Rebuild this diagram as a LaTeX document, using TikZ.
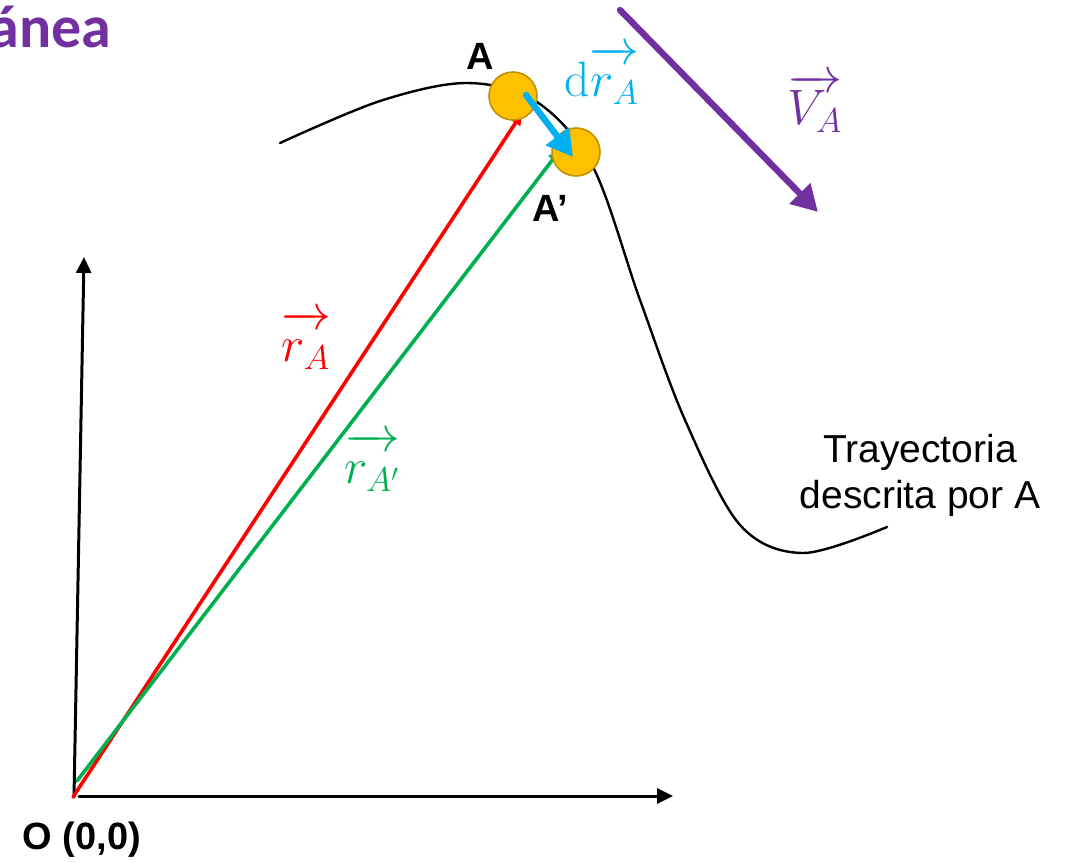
\documentclass[tikz,border=0pt]{standalone}
\usepackage[no-math]{fontspec}
\setmainfont{Liberation Sans}
\newfontfamily\titlefont{Carlito}
\usetikzlibrary{arrows.meta,positioning}

\definecolor{vecred}{RGB}{255,0,0}
\definecolor{vecgreen}{RGB}{0,176,80}
\definecolor{vecblue}{RGB}{0,176,240}
\definecolor{vecpurple}{RGB}{112,48,160}
\definecolor{ptfill}{RGB}{255,192,0}
\definecolor{ptdraw}{RGB}{191,144,0}

\newcommand{\highvec}[1]{\overrightarrow{#1\vphantom{b}}}

\begin{document}
\begin{tikzpicture}[x=0.5pt, y=-0.5pt, line cap=round, line join=round,
    axis/.style={line width=1.5pt, -{Triangle[length=8pt,width=7.5pt]}},
    posvec/.style={line width=1.8pt, -{Triangle[length=6pt,width=5.5pt]}},
    bigvec/.style={line width=3.2pt, -{Triangle[length=13pt,width=14pt]}},
    point/.style={circle, fill=ptfill, draw=ptdraw, line width=0.8pt, minimum size=24pt, inner sep=0pt},
    lbl/.style={font=\fontsize{19}{22}\selectfont\bfseries},
    mathlbl/.style={font=\fontsize{24}{28}\selectfont}]
    \useasboundingbox (0,0) rectangle (1068,862);

    % --- title (cut at the left edge) ---
    \node[anchor=base east, text=vecpurple, inner sep=0pt,
        font=\titlefont\fontsize{30}{36}\selectfont\bfseries] (title) at (112,47) {ánea};

    % --- axes ---
    \coordinate (O) at (73,797);
    \coordinate (yorig) at (74,797);
    \coordinate (xorig) at (79,796);
    \coordinate (xend) at (673,796);
    \coordinate (yend) at (84,257);
    \draw[axis] (xorig) -- (xend);
    \draw[axis] (yorig) -- (yend);
    \node[lbl] (origin) at (82,840) {O (0,0)};

    % --- trajectory ---
    \draw[line width=1.2pt, smooth, tension=0.55] plot coordinates {
        (280,143) (380,101) (467,83) (537,102) (593,167) (640,300)
        (685,420) (740,525) (803,553) (887,527)};
    \node[align=center, font=\fontsize{19.5}{23}\selectfont] (traj) at (920,475)
        {Trayectoria\\descrita por A};

    % --- position vectors ---
    \coordinate (rAtip) at (522,113);
    \coordinate (rA2foot) at (77,781);
    \coordinate (rA2tip) at (560,150);
    \draw[posvec, vecred] (O) -- (rAtip);
    \draw[posvec, vecgreen] (rA2foot) -- (rA2tip);
    \node[mathlbl, text=vecred] (rAlbl) at (306,340) {$\highvec{r_A}$};
    \node[mathlbl, text=vecgreen] (rA2lbl) at (372,462) {$\highvec{r_{A'}}$};

    % --- points A and A' ---
    \node[point] (Apt) at (513,96) {};
    \node[point] (Apt2) at (576,152) {};
    \node[lbl] (Albl) at (480,56) {A};
    \node[lbl] (A2lbl) at (550,208) {A’};

    % --- displacement and velocity ---
    \coordinate (drstart) at (526,95);
    \coordinate (drtip) at (573,157);
    \draw[bigvec, vecblue] (drstart) -- (drtip);
    \node[mathlbl, text=vecblue] (drlbl) at (602,75) {$\mathrm{d}\highvec{r_A}$};

    \coordinate (Vstart) at (620,10);
    \coordinate (Vtip) at (818,212);
    \draw[bigvec, vecpurple] (Vstart) -- (Vtip);
    \node[mathlbl, text=vecpurple] (Vlbl) at (815,103) {$\highvec{V_A}$};
\end{tikzpicture}
\end{document}
